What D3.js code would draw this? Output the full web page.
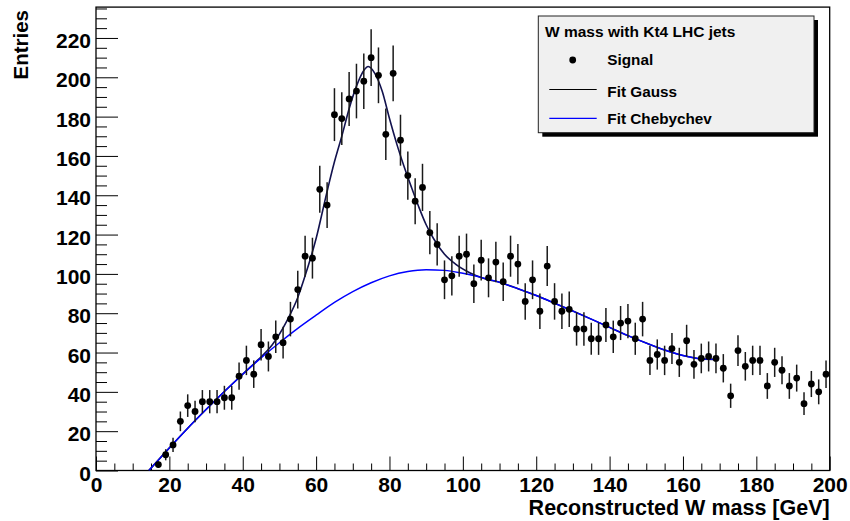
<!DOCTYPE html>
<html>
<head>
<meta charset="utf-8">
<script src="https://cdn.jsdelivr.net/npm/d3@7"></script>
<style>
  html, body { margin: 0; padding: 0; background: #fff; }
  svg { display: block; font-family: "Liberation Sans", Arial, Helvetica, sans-serif; font-weight: bold; }
</style>
</head>
<body>
<svg id="chart" width="850" height="521"></svg>
<script>
// Reconstructed W mass histogram: bin centres (GeV) and entries per 2 GeV bin
const binCenters = [17,19,21,23,25,27,29,31,33,35,37,39,41,43,45,47,49,51,53,55,57,59,61,63,65,67,69,71,73,75,77,79,81,83,85,87,89,91,93,95,97,99,101,103,105,107,109,111,113,115,117,119,121,123,125,127,129,131,133,135,137,139,141,143,145,147,149,151,153,155,157,159,161,163,165,167,169,171,173,175,177,179,181,183,185,187,189,191,193,195,197,199];
const entries = [3,8,13,25,33,30,35,35,35,37,37,48,56,49,64,58,68,65,77,92,109,108,143,135,181,179,189,193,198,210,201,171,202,168,150,137,144,121,115,97,99,109,110,95,107,98,106,96,109,105,86,97,81,104,86,81,82,72,72,67,67,74,68,75,76,67,77,56,59,56,62,55,66,54,57,58,57,52,38,61,53,56,56,43,55,51,43,47,34,44,40,49];

// Fitted curves sampled along the mass axis
const gaussFitX = [14.4,20,25,30,35,40,44,48,52,55,57,60,63,65,67,69,71,73,74.2,76,78,80,82,84,86,88,90,92,95,98,102,106,110,115,120,125,130,135,140,145,150,155,160,165,169.5];
const gaussFitY = [0,11.5,21.5,31,40.2,49,56,63.8,76,88,99,118,142,157,170,184,195.5,203.5,205.5,202,193,179,166,154.5,144,134,125,118,110,105,100.5,97.5,95.7,92.5,89,85.1,81.1,77,72.8,68.6,64.8,61.3,58.5,56.8,56.5];
const chebFitX = [14.4,20,25,30,35,40,45,50,55,60,65,70,75,80,85,90,95,100,105,110,115,120,125,130,135,140,145,150,155,160,165,169.5];
const chebFitY = [0,11.5,21.5,31,40.2,49,57.3,65,72.3,79,85.5,91,95.5,99,101.2,102.1,101.8,100.3,98.2,95.7,92.5,89,85.1,81.1,77,72.8,68.6,64.8,61.3,58.5,56.8,56.5];

const xMajor = [0,20,40,60,80,100,120,140,160,180,200];
const yMajor = [0,20,40,60,80,100,120,140,160,180,200,220];

const legendHeader = "W mass with Kt4 LHC jets";
const legendLabels = ["Signal", "Fit Gauss", "Fit Chebychev"];

const svg = d3.select("#chart");
const frame = { left: 96, right: 829.7, top: 7.1, bottom: 470.5 };

const x = d3.scaleLinear().domain([0, 200]).range([frame.left, frame.right]);
const y = d3.scaleLinear().domain([0, 235.7]).range([frame.bottom, frame.top]);

// clip for fit curves
svg.append("defs").append("clipPath").attr("id", "plotClip")
  .append("rect")
  .attr("x", frame.left).attr("y", frame.top)
  .attr("width", frame.right - frame.left).attr("height", frame.bottom - frame.top);

// minor ticks every 5 units, drawn inside the frame
const xMinor = d3.range(0, 201, 5).filter(v => v % 20 !== 0);
const yMinor = d3.range(0, 236, 5).filter(v => v % 20 !== 0);

const xAxisMinor = svg.append("g").attr("transform", `translate(0,${frame.bottom})`)
  .call(d3.axisBottom(x).tickValues(xMinor).tickSize(-7).tickFormat(""));
const xAxis = svg.append("g").attr("transform", `translate(0,${frame.bottom})`)
  .call(d3.axisBottom(x).tickValues(xMajor).tickSize(-14).tickPadding(6.5).tickFormat(d3.format("d")));
const yAxisMinor = svg.append("g").attr("transform", `translate(${frame.left},0)`)
  .call(d3.axisLeft(y).tickValues(yMinor).tickSize(-11).tickFormat(""));
const yAxis = svg.append("g").attr("transform", `translate(${frame.left},0)`)
  .call(d3.axisLeft(y).tickValues(yMajor).tickSize(-22).tickPadding(5).tickFormat(d3.format("d")));

[xAxisMinor, xAxis, yAxisMinor, yAxis].forEach(g => {
  g.select(".domain").remove();
  g.selectAll(".tick line").attr("stroke", "#000").attr("stroke-width", 1);
});
xAxis.selectAll(".tick text")
  .attr("font-size", 21).attr("font-family", "Liberation Sans, Arial, sans-serif")
  .attr("font-weight", "bold").attr("fill", "#000");
yAxis.selectAll(".tick text")
  .attr("font-size", 21).attr("font-family", "Liberation Sans, Arial, sans-serif")
  .attr("font-weight", "bold").attr("fill", "#000").attr("dy", "0.46em");

// frame
svg.append("rect")
  .attr("x", frame.left).attr("y", frame.top)
  .attr("width", frame.right - frame.left).attr("height", frame.bottom - frame.top)
  .attr("fill", "none").attr("stroke", "#000").attr("stroke-width", 1.3);

// axis titles
svg.append("text")
  .attr("x", frame.right).attr("y", 515)
  .attr("text-anchor", "end").attr("font-size", 21.5)
  .text("Reconstructed W mass [GeV]");
svg.append("text")
  .attr("transform", "translate(28,10) rotate(-90)")
  .attr("text-anchor", "end").attr("font-size", 20.5)
  .text("Entries");

// fit curves
const lineGen = d3.line().x(d => x(d[0])).y(d => y(d[1])).curve(d3.curveMonotoneX);
const curves = svg.append("g").attr("clip-path", "url(#plotClip)");
curves.append("path")
  .datum(d3.zip(gaussFitX, gaussFitY))
  .attr("d", lineGen).attr("fill", "none")
  .attr("stroke", "#12124e").attr("stroke-width", 1.6);
curves.append("path")
  .datum(d3.zip(chebFitX, chebFitY))
  .attr("d", lineGen).attr("fill", "none")
  .attr("stroke", "#0000ff").attr("stroke-width", 1.4);

// data points with sqrt(N) error bars
const pts = svg.append("g");
const data = d3.zip(binCenters, entries);
pts.selectAll("line.err").data(data).join("line")
  .attr("class", "err")
  .attr("x1", d => x(d[0])).attr("x2", d => x(d[0]))
  .attr("y1", d => y(d[1] - Math.sqrt(d[1]))).attr("y2", d => y(d[1] + Math.sqrt(d[1])))
  .attr("stroke", "#1a1a1a").attr("stroke-width", 1.5);
pts.selectAll("circle").data(data).join("circle")
  .attr("cx", d => x(d[0])).attr("cy", d => y(d[1]))
  .attr("r", 3.4).attr("fill", "#000");

// legend with drop shadow
const lg = { x: 538.3, y: 16, w: 275.7, h: 116.7 };
svg.append("rect").attr("x", lg.x + 4).attr("y", lg.y + 4)
  .attr("width", lg.w).attr("height", lg.h).attr("fill", "#000");
svg.append("rect").attr("x", lg.x).attr("y", lg.y)
  .attr("width", lg.w).attr("height", lg.h)
  .attr("fill", "#f0f0f0").attr("stroke", "#222").attr("stroke-width", 1);
svg.append("text").attr("x", 545).attr("y", 36.7).attr("font-size", 15.5).text(legendHeader);

svg.append("circle").attr("cx", 572.7).attr("cy", 60).attr("r", 3.4).attr("fill", "#000");
svg.append("text").attr("x", 607.3).attr("y", 65.3).attr("font-size", 15.3).text(legendLabels[0]);

svg.append("line").attr("x1", 549.3).attr("x2", 596.7).attr("y1", 89.5).attr("y2", 89.5)
  .attr("stroke", "#000").attr("stroke-width", 1.2);
svg.append("text").attr("x", 607.3).attr("y", 96.7).attr("font-size", 15.3).text(legendLabels[1]);

svg.append("line").attr("x1", 549.3).attr("x2", 596.7).attr("y1", 118.3).attr("y2", 118.3)
  .attr("stroke", "#0000ff").attr("stroke-width", 1.2);
svg.append("text").attr("x", 607.3).attr("y", 123.5).attr("font-size", 15.3).text(legendLabels[2]);
</script>
</body>
</html>
